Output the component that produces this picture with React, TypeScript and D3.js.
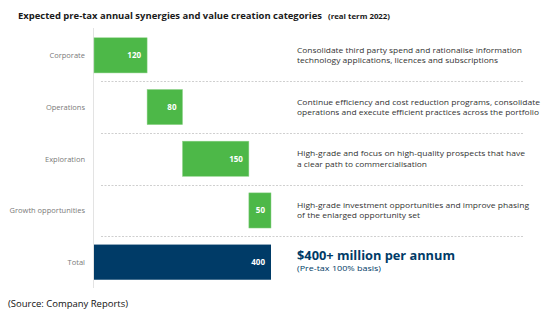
import React from "react";
import * as d3 from "d3";

const categories = ["Corporate", "Operations", "Exploration", "Growth opportunities", "Total"];
const values = [120, 80, 150, 50, 400];
const descriptions = [
  ["Consolidate third party spend and rationalise information", "technology applications, licences and subscriptions"],
  ["Continue efficiency and cost reduction programs, consolidate", "operations and execute efficient practices across the portfolio"],
  ["High-grade and focus on high-quality prospects that have", "a clear path to commercialisation"],
  ["High-grade investment opportunities and improve phasing", "of the enlarged opportunity set"],
];
const descWidths = [
  [225, 201],
  [243, 242],
  [228, 130],
  [232, 123],
];
const titleMain = "Expected pre-tax annual synergies and value creation categories";
const titleSub = "(real term 2022)";
const totalHeadline = "$400+ million per annum";
const totalNote = "(Pre-tax 100% basis)";
const sourceNote = "(Source: Company Reports)";

const W = 552;
const H = 321;
const FONT = "'Open Sans', 'Noto Sans', sans-serif";
const GREEN = "#4db848";
const NAVY = "#003b67";

export default function App() {
  const x = d3.scaleLinear().domain([0, 400]).range([94, 271]);
  const y = d3.scaleBand<string>().domain(categories).range([29.5, 288]).paddingInner(0.32).paddingOuter(0.16);
  const starts: number[] = [];
  let acc = 0;
  values.forEach((v, i) => {
    if (i === values.length - 1) starts.push(0);
    else {
      starts.push(acc);
      acc += v;
    }
  });
  const step = y.step();
  return (
    <svg width={W} height={H} style={{ position: "absolute", left: 0, top: 0, background: "#fff" }}>
      <text x={18} y={19} fontFamily={FONT} fontSize={9.2} fontWeight="bold" fill="#1a1a1a" textLength={304} lengthAdjust="spacingAndGlyphs">
        {titleMain}
      </text>
      <text x={328} y={19} fontFamily={FONT} fontSize={7} fontWeight="bold" fill="#1a1a1a" textLength={62} lengthAdjust="spacingAndGlyphs">
        {titleSub}
      </text>
      <line x1={93.5} x2={93.5} y1={28} y2={288} stroke="#e3e3e3" strokeWidth={1} />
      {categories.slice(0, -1).map((c) => {
        const yy = Math.round((y(c) as number) + y.bandwidth() + (step - y.bandwidth()) / 2) + 0.5;
        return (
          <line key={"sep" + c} x1={101} x2={523} y1={yy} y2={yy} stroke="#cfcfcf" strokeWidth={1} strokeDasharray="2,1.5" />
        );
      })}
      {categories.map((c, i) => {
        const y0 = y(c) as number;
        const cy = y0 + y.bandwidth() / 2;
        const isTotal = i === categories.length - 1;
        const x0 = x(starts[i]);
        const x1 = x(starts[i] + values[i]);
        return (
          <g key={c}>
            <text x={85} y={cy + 3} textAnchor="end" fontFamily={FONT} fontSize={7.5} fill="#7a7a7a">
              {c}
            </text>
            <rect x={x0} y={y0} width={x1 - x0} height={y.bandwidth()} fill={isTotal ? NAVY : GREEN} stroke={isTotal ? "none" : "#8fd38a"} strokeWidth={0.5} />
            <text x={x1 - 6} y={cy + 3} textAnchor="end" fontFamily={FONT} fontSize={8} fontWeight="bold" fill="#fff">
              {values[i]}
            </text>
            {!isTotal && (
              <g>
                <text x={297} y={cy - 2.5} fontFamily={FONT} fontSize={7.8} fill="#333" textLength={descWidths[i][0]} lengthAdjust="spacingAndGlyphs">
                  {descriptions[i][0]}
                </text>
                <text x={297} y={cy + 8} fontFamily={FONT} fontSize={7.8} fill="#333" textLength={descWidths[i][1]} lengthAdjust="spacingAndGlyphs">
                  {descriptions[i][1]}
                </text>
              </g>
            )}
            {isTotal && (
              <g>
                <text x={297} y={cy - 2} fontFamily={FONT} fontSize={11.5} fontWeight="bold" fill={NAVY} textLength={158} lengthAdjust="spacingAndGlyphs">
                  {totalHeadline}
                </text>
                <text x={297} y={cy + 9} fontFamily={FONT} fontSize={7.5} fill={NAVY} textLength={84} lengthAdjust="spacingAndGlyphs">
                  {totalNote}
                </text>
              </g>
            )}
          </g>
        );
      })}
      <text x={8} y={307} fontFamily={FONT} fontSize={9} fill="#111" textLength={120} lengthAdjust="spacingAndGlyphs">
        {sourceNote}
      </text>
    </svg>
  );
}
